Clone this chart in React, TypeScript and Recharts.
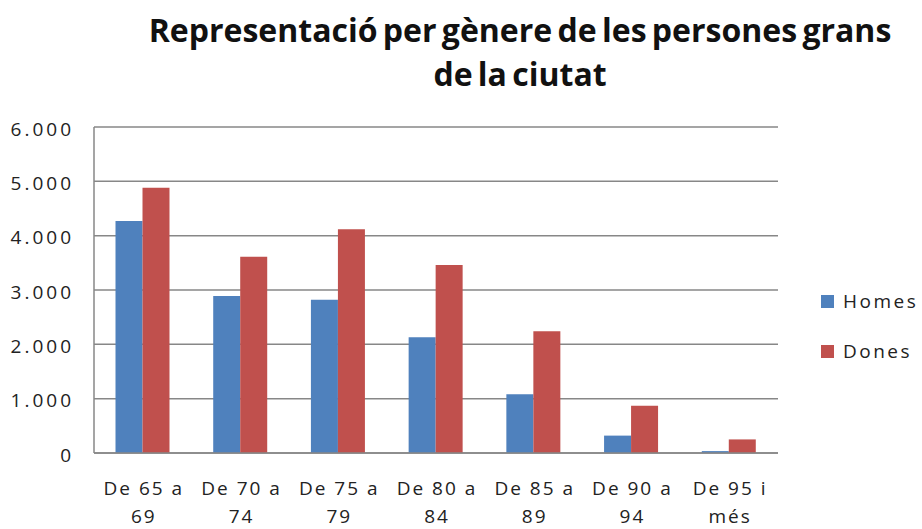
import React from "react";
import { Bar, BarChart, CartesianGrid, XAxis, YAxis } from "recharts";

const categories = ["De 65 a|69", "De 70 a|74", "De 75 a|79", "De 80 a|84", "De 85 a|89", "De 90 a|94", "De 95 i|més"];
const homes = [4270, 2890, 2820, 2130, 1080, 320, 35];
const dones = [4880, 3610, 4120, 3460, 2240, 870, 250];
const yTicks = [0, 1000, 2000, 3000, 4000, 5000, 6000];

const data = categories.map((c, i) => ({ cat: c, Homes: homes[i], Dones: dones[i] }));

const FONT = "'Open Sans', sans-serif";
const BLUE = "#4F81BD";
const RED = "#C0504D";

const fmt = (v: number) => v.toLocaleString("de-DE");

function CatTick(props: any) {
  const { x, y, payload } = props;
  const [a, b] = String(payload.value).split("|");
  const style = { fontFamily: FONT, fontSize: 19, letterSpacing: 2 };
  return (
    <g>
      <text x={x + 1} y={y + 34} textAnchor="middle" fill="#222" style={style}>
        {a}
      </text>
      <text x={x + 1} y={y + 62} textAnchor="middle" fill="#222" style={style}>
        {b}
      </text>
    </g>
  );
}

const series = [
  { name: "Homes", color: BLUE },
  { name: "Dones", color: RED },
];

export default function App() {
  return (
    <div style={{ position: "absolute", left: 0, top: 0, width: 922, height: 529, background: "#fff" }}>
      <div
        style={{
          position: "absolute",
          left: 120,
          width: 800,
          top: 8,
          textAlign: "center",
          fontFamily: FONT,
          fontWeight: 700,
          fontSize: 32,
          lineHeight: "44px",
          wordSpacing: -3,
          color: "#111",
        }}
      >
        Representació per gènere de les persones grans
        <br />
        de la ciutat
      </div>
      <BarChart
        width={922}
        height={529}
        data={data}
        margin={{ top: 127, right: 144, left: 0, bottom: 0 }}
        barCategoryGap="22%"
        barGap={0}
      >
        <CartesianGrid vertical={false} stroke="#878787" strokeWidth={1.5} />
        <XAxis
          dataKey="cat"
          height={76}
          interval={0}
          tickLine={false}
          axisLine={{ stroke: "#878787", strokeWidth: 1.5 }}
          tick={<CatTick />}
        />
        <YAxis
          width={94}
          domain={[0, 6000]}
          ticks={yTicks}
          tickFormatter={fmt}
          tickLine={false}
          tickSize={0}
          tickMargin={20}
          axisLine={{ stroke: "#878787", strokeWidth: 1.5 }}
          tick={{ fontFamily: FONT, fontSize: 19, fill: "#222", letterSpacing: 3, dy: 2 }}
        />
        <Bar dataKey="Homes" fill={BLUE} isAnimationActive={false} />
        <Bar dataKey="Dones" fill={RED} isAnimationActive={false} />
      </BarChart>
      <div style={{ position: "absolute", left: 821, top: 276, fontFamily: FONT, fontSize: 19, color: "#222" }}>
        {series.map((s) => (
          <div key={s.name} style={{ display: "flex", alignItems: "center", height: 50 }}>
            <span style={{ width: 13, height: 13, background: s.color, display: "inline-block", marginRight: 9 }} />
            <span style={{ letterSpacing: 2.5 }}>{s.name}</span>
          </div>
        ))}
      </div>
    </div>
  );
}
